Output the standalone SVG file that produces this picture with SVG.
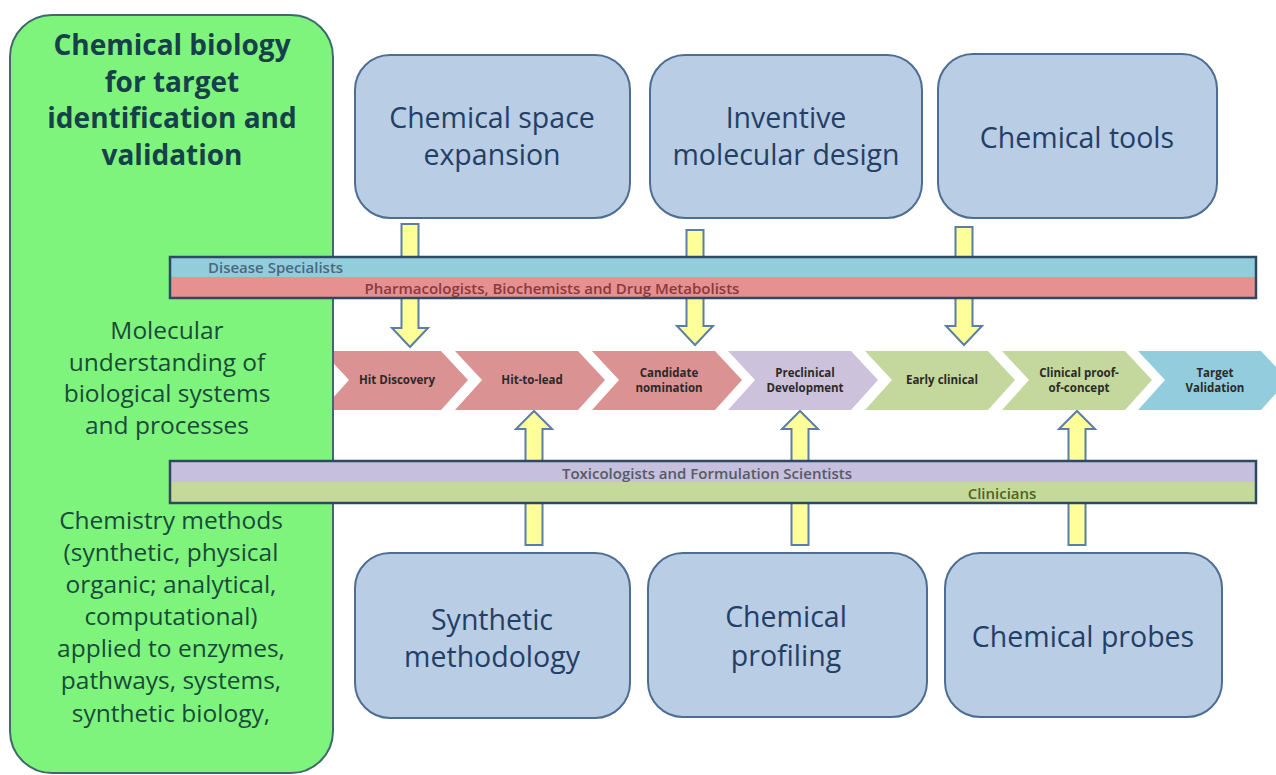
<svg xmlns="http://www.w3.org/2000/svg" width="1276" height="775" viewBox="0 0 1276 775">
<style>
  .box { fill: #b9cde5; stroke: #4d6d92; stroke-width: 2; }
  .btxt { font-family: "Open Sans", "Liberation Sans", sans-serif; font-size: 28.5px; fill: #243f66; text-anchor: middle; }
  .ltitle { font-family: "Open Sans", "Liberation Sans", sans-serif; font-size: 28px; font-weight: bold; fill: #16404a; text-anchor: middle; }
  .ltxt { font-family: "Open Sans", "Liberation Sans", sans-serif; font-size: 24.5px; fill: #1a4a3a; text-anchor: middle; }
  .chev { stroke: none; }
  .ctxt { font-family: "Open Sans", "Liberation Sans", sans-serif; font-size: 11.5px; font-weight: bold; fill: #2a2a2a; text-anchor: middle; }
  .arrow { fill: #ffff99; stroke: #5a7ea6; stroke-width: 2; stroke-linejoin: miter; }
  .band { fill: none; stroke: #2e4a62; stroke-width: 2.5; }
  .bandtxt { font-family: "Open Sans", "Liberation Sans", sans-serif; font-size: 15px; font-weight: 600; }
</style>

<rect x="0" y="0" width="1276" height="775" fill="#ffffff"/>

<g id="connectors">
  <!-- down arrows -->
  <path class="arrow" d="M401.5,224 H418.5 V328 H428 L410,347 L392,328 H401.5 Z"/>
  <path class="arrow" d="M686.5,230 H703.5 V326 H713 L695,345 L677,326 H686.5 Z"/>
  <path class="arrow" d="M955.5,227 H972.5 V326 H982 L964,345 L946,326 H955.5 Z"/>
  <!-- up arrows -->
  <path class="arrow" d="M525.5,545 H542.5 V429 H552 L534,411 L516,429 H525.5 Z"/>
  <path class="arrow" d="M791.5,545 H808.5 V429 H818 L800,411 L782,429 H791.5 Z"/>
  <path class="arrow" d="M1068.5,545 H1085.5 V429 H1095 L1077,411 L1059,429 H1068.5 Z"/>
</g>

<g id="stage-hit-discovery">
  <polygon class="chev" fill="#da9392" points="322,351 441,351 468,380 441,410 322,410 349,380"/>
  <text class="ctxt" x="397" y="384">Hit Discovery</text>
</g>
<g id="stage-hit-to-lead">
  <polygon class="chev" fill="#da9392" points="455,351 578,351 605,380 578,410 455,410 482,380"/>
  <text class="ctxt" x="532" y="384">Hit-to-lead</text>
</g>
<g id="stage-candidate">
  <polygon class="chev" fill="#da9392" points="592,351 715,351 742,380 715,410 592,410 619,380"/>
  <text class="ctxt" x="669" y="377">Candidate</text>
  <text class="ctxt" x="669" y="392">nomination</text>
</g>
<g id="stage-preclinical">
  <polygon class="chev" fill="#cdc2db" points="728,351 851,351 878,380 851,410 728,410 755,380"/>
  <text class="ctxt" x="805" y="377">Preclinical</text>
  <text class="ctxt" x="805" y="392">Development</text>
</g>
<g id="stage-early-clinical">
  <polygon class="chev" fill="#c4d79c" points="865,351 988,351 1015,380 988,410 865,410 892,380"/>
  <text class="ctxt" x="942" y="384">Early clinical</text>
</g>
<g id="stage-clinical-poc">
  <polygon class="chev" fill="#c4d79c" points="1002,351 1125,351 1152,380 1125,410 1002,410 1029,380"/>
  <text class="ctxt" x="1079" y="377">Clinical proof-</text>
  <text class="ctxt" x="1079" y="392">of-concept</text>
</g>
<g id="stage-target-validation">
  <polygon class="chev" fill="#93cddd" points="1138,351 1261,351 1288,380 1261,410 1138,410 1165,380"/>
  <text class="ctxt" x="1215" y="377">Target</text>
  <text class="ctxt" x="1215" y="392">Validation</text>
</g>

<g id="left-panel">
  <rect x="10" y="15" width="323" height="758" rx="42" ry="42" fill="#7ff47d" stroke="#3e6a6c" stroke-width="2"/>
  <text class="ltitle" x="172" y="55">Chemical biology</text>
  <text class="ltitle" x="172" y="92">for target</text>
  <text class="ltitle" x="172" y="128">identification and</text>
  <text class="ltitle" x="172" y="165">validation</text>
  <text class="ltxt" x="167" y="339">Molecular</text>
  <text class="ltxt" x="167" y="371">understanding of</text>
  <text class="ltxt" x="167" y="402">biological systems</text>
  <text class="ltxt" x="167" y="434">and processes</text>
  <text class="ltxt" x="171" y="529">Chemistry methods</text>
  <text class="ltxt" x="171" y="561">(synthetic, physical</text>
  <text class="ltxt" x="171" y="593">organic; analytical,</text>
  <text class="ltxt" x="171" y="625">computational)</text>
  <text class="ltxt" x="171" y="657">applied to enzymes,</text>
  <text class="ltxt" x="171" y="689">pathways, systems,</text>
  <text class="ltxt" x="171" y="722">synthetic biology,</text>
</g>

<g id="band-top">
  <rect x="170" y="257" width="1086" height="21" fill="#92cddc"/>
  <rect x="170" y="277" width="1086" height="21" fill="#e6908f"/>
  <rect class="band" x="170" y="257" width="1086" height="41"/>
  <text class="bandtxt" x="208" y="273" fill="#4a6880">Disease Specialists</text>
  <text class="bandtxt" x="552" y="294" fill="#8a3a3e" text-anchor="middle">Pharmacologists, Biochemists and Drug Metabolists</text>
</g>

<g id="band-bottom">
  <rect x="170" y="461" width="1086" height="22" fill="#c6bfdd"/>
  <rect x="170" y="482" width="1086" height="21" fill="#c5da98"/>
  <rect class="band" x="170" y="461" width="1086" height="42"/>
  <text class="bandtxt" x="707" y="479" fill="#555a66" text-anchor="middle">Toxicologists and Formulation Scientists</text>
  <text class="bandtxt" x="1002" y="499" fill="#4f6228" text-anchor="middle">Clinicians</text>
</g>

<g id="box-chemical-space">
  <rect class="box" x="355" y="55" width="275" height="163" rx="35" ry="35"/>
  <text class="btxt" x="492" y="128">Chemical space</text>
  <text class="btxt" x="492" y="165">expansion</text>
</g>
<g id="box-inventive">
  <rect class="box" x="650" y="55" width="272" height="163" rx="35" ry="35"/>
  <text class="btxt" x="786" y="128">Inventive</text>
  <text class="btxt" x="786" y="165">molecular design</text>
</g>
<g id="box-chemical-tools">
  <rect class="box" x="938" y="54" width="279" height="164" rx="35" ry="35"/>
  <text class="btxt" x="1077" y="148">Chemical tools</text>
</g>
<g id="box-synthetic">
  <rect class="box" x="355" y="553" width="275" height="165" rx="35" ry="35"/>
  <text class="btxt" x="492" y="630">Synthetic</text>
  <text class="btxt" x="492" y="667">methodology</text>
</g>
<g id="box-profiling">
  <rect class="box" x="648" y="553" width="279" height="164" rx="35" ry="35"/>
  <text class="btxt" x="786" y="627">Chemical</text>
  <text class="btxt" x="786" y="666">profiling</text>
</g>
<g id="box-probes">
  <rect class="box" x="945" y="553" width="277" height="164" rx="35" ry="35"/>
  <text class="btxt" x="1083" y="647">Chemical probes</text>
</g>
</svg>
